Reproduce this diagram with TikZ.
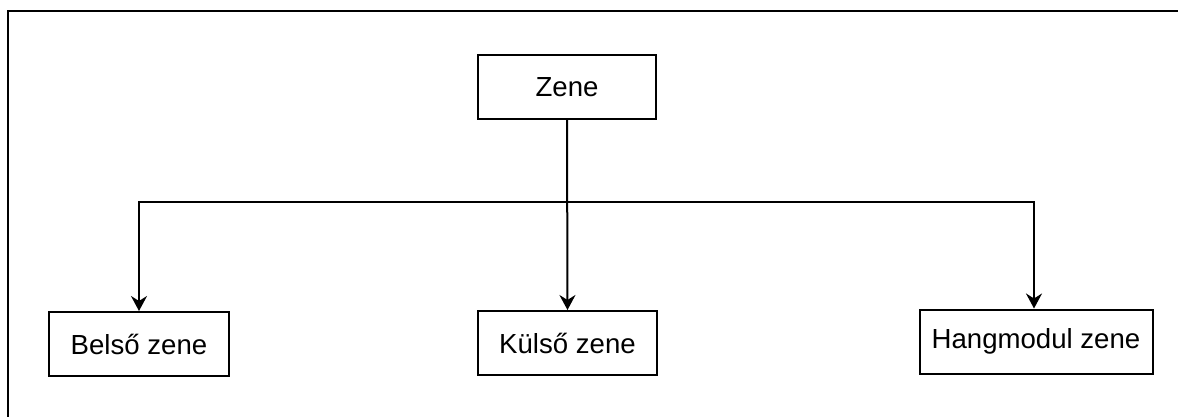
\documentclass[tikz,border=0pt]{standalone}
\usepackage{fontspec}
\setmainfont{Liberation Sans}
\usetikzlibrary{arrows,arrows.meta}

\begin{document}
\begin{tikzpicture}[x=0.5pt,y=-0.5pt,line width=1pt]
% Styles
\tikzstyle{music box}=[draw,rectangle,inner sep=0pt,minimum height=32pt,font=\fontsize{13.8pt}{16pt}\selectfont]
\tikzstyle{music arrow}=[-{Stealth[length=7.5pt,width=8pt,inset=2.5pt]}]

\useasboundingbox (0,0) rectangle (1178,417);

% frame
\draw (8,417) -- (8,11.5) -- (1178,11.5);

% draw the nodes
\node[music box,minimum width=89pt] (zene) at (567,87) {Zene};
\node[music box,minimum width=90pt] (belso) at (139,344) {Belső zene};
\node[music box,minimum width=89.5pt] (kulso) at (567.5,343) {Külső zene};
\node[music box,minimum width=116.5pt] (hangmodul) at (1036,341.5) {Hangmodul zene};

\coordinate (split) at (568,202);

% arrows
\draw[music arrow] (zene.south) -- (kulso.north);
\draw[music arrow] (split) -| (belso.north);
\draw[music arrow] (split) -| ([xshift=-1pt]hangmodul.north);

\end{tikzpicture}
\end{document}
